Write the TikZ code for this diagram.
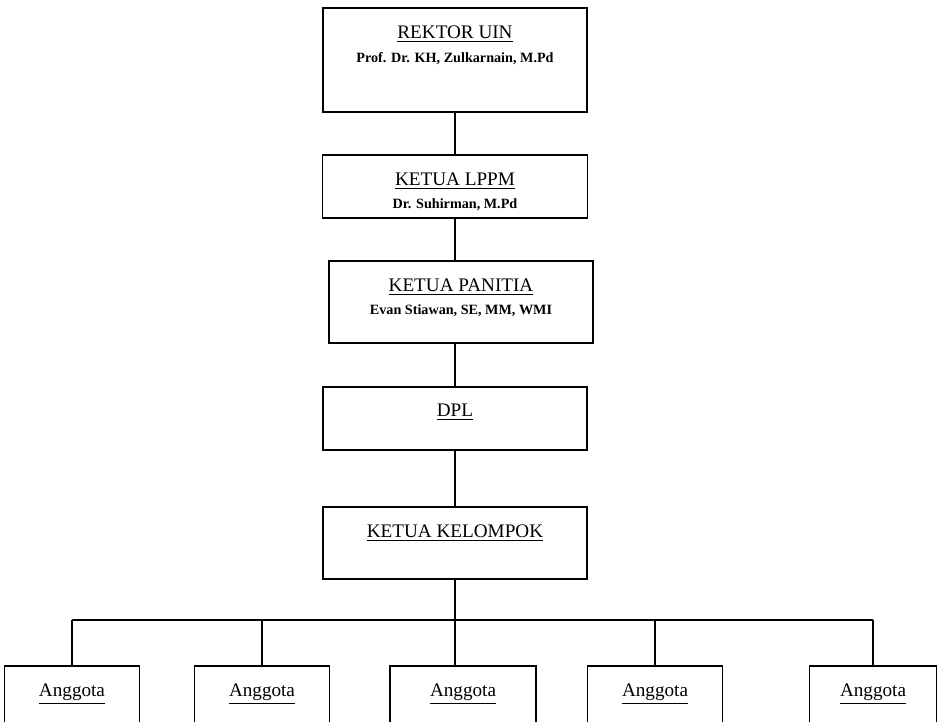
\documentclass[tikz,border=0pt]{standalone}
\usepackage{fontspec}
\setmainfont{Liberation Serif}
\usetikzlibrary{positioning}

\newcommand{\pname}[1]{{\fontsize{8.5}{10}\selectfont\bfseries #1}}

\begin{document}
\begin{tikzpicture}[
    x=0.6pt, y=-0.6pt,
    line width=1.1pt,
    box/.style={rectangle, draw=black, inner sep=0pt},
    title/.style={anchor=north, inner sep=0pt, align=center, font=\fontsize{11.5}{13}\selectfont}
]
    \useasboundingbox (0,0) rectangle (939,721);
    \clip (0,0) rectangle (939,721);

    \node[box, minimum width=264*0.6pt, minimum height=104*0.6pt] (rektor) at (455,60) {};
    \node[box, minimum width=265*0.6pt, minimum height=63*0.6pt] (lppm) at (455,186.5) {};
    \node[box, minimum width=264*0.6pt, minimum height=82*0.6pt] (panitia) at (461,302) {};
    \node[box, minimum width=264*0.6pt, minimum height=63*0.6pt] (dpl) at (455,418.5) {};
    \node[box, minimum width=264*0.6pt, minimum height=72*0.6pt] (kelompok) at (455,543) {};

    \node[title] (rektortxt) at ([yshift=-10.8pt]rektor.north)
        {\underline{REKTOR UIN}\\[1pt]\pname{Prof. Dr. KH, Zulkarnain, M.Pd}};
    \node[title] (lppmtxt) at ([yshift=-10.8pt]lppm.north)
        {\underline{KETUA LPPM}\\[1pt]\pname{Dr. Suhirman, M.Pd}};
    \node[title] (panitiatxt) at ([yshift=-10.8pt]panitia.north)
        {\underline{KETUA PANITIA}\\[1pt]\pname{Evan Stiawan, SE, MM, WMI}};
    \node[title] (dpltxt) at ([yshift=-10.2pt]dpl.north) {\underline{DPL}};
    \node[title] (kelompoktxt) at ([yshift=-10.8pt]kelompok.north) {\underline{KETUA KELOMPOK}};

    % anggota
    \foreach \i/\x/\w in {1/72/135, 2/262/135, 3/463/146, 4/655/135, 5/873/127} {
        \node[box, minimum width=\w*0.6pt, minimum height=100*0.6pt] (a\i) at (\x,716) {};
        \node[title] (a\i txt) at ([yshift=-10.8pt]a\i.north) {\underline{Anggota}};
    }

    \draw (rektor.south) -- (rektor.south |- lppm.north);
    \draw (lppm.south) -- (lppm.south |- panitia.north);
    \draw (panitia.south -| dpl.north) -- (dpl.north);
    \draw (dpl.south) -- (kelompok.north);

    \coordinate (bus) at (455,620);
    \draw (kelompok.south) -- (bus);
    \draw (a1.north |- bus) -- (a5.north |- bus);
    \foreach \i in {1,2,4,5}
        \draw (a\i.north |- bus) -- (a\i.north);
    \draw (bus) -- (bus |- a3.north);
\end{tikzpicture}
\end{document}
